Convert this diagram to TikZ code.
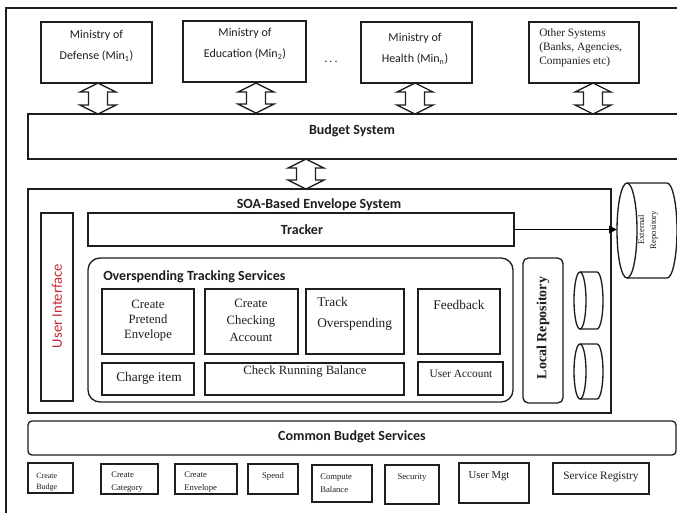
\documentclass[tikz,border=0pt]{standalone}
\usepackage{fontspec}
\setmainfont{Liberation Serif}
\setsansfont{Carlito}
\usetikzlibrary{fit,calc,arrows.meta}

\definecolor{uired}{RGB}{196,40,52}
\definecolor{ink}{RGB}{30,30,30}

% hollow cylinder lying on its side: centre x, centre y, half width, half height, end radius
\newcommand\drumoutline[5]{%
  \draw[edge] ({#1-#3+#5},{#2}) ellipse [x radius=#5, y radius=#4];
  \draw[edge] ({#1-#3+#5},{#2-#4}) -- ({#1+#3-#5},{#2-#4})
    arc [start angle=-90, end angle=90, x radius=#5, y radius=#4]
    -- ({#1-#3+#5},{#2+#4});
}

\begin{document}
\begin{tikzpicture}[x=0.75pt,y=-0.75pt,
  edge/.style={draw=ink, line width=1pt},
  box/.style={edge, rectangle, inner sep=0pt, outer sep=0pt},
  ghost/.style={rectangle, inner sep=0pt, outer sep=0pt},
  txt/.style={inner sep=0pt, align=center, text=ink},
  sanstxt/.style={txt, font=\sffamily\fontsize{9}{16}\selectfont},
  headtxt/.style={txt, font=\sffamily\bfseries\fontsize{10.5}{12}\selectfont},
  serifmid/.style={txt, font=\fontsize{9.5}{11.25}\selectfont},
  seriftiny/.style={txt, font=\fontsize{6}{8.25}\selectfont},
  flow/.style={draw=black, line width=1.3pt, -{Triangle[length=6pt,width=5.5pt]}},
  duplex/.pic={\draw[edge] (0,0) -- (-18,9) -- (-9.5,9) -- (-9.5,22) -- (-18,22)
      -- (0,31) -- (18,22) -- (9.5,22) -- (9.5,9) -- (18,9) -- cycle;},
  duplexshort/.pic={\draw[edge] (0,0) -- (-18,9) -- (-9.5,9) -- (-9.5,21) -- (-18,21)
      -- (0,30) -- (18,21) -- (9.5,21) -- (9.5,9) -- (18,9) -- cycle;}
]
\useasboundingbox (0,0) rectangle (677,512);
\fill[white] (0,0) rectangle (677,512);

% outer frame
\coordinate (frameTR) at (685,8);
\coordinate (frameTL) at (6,8);
\coordinate (frameBL) at (6,520);
\draw[edge] (frameTR) -- (frameTL) -- (frameBL);

% ministries and other systems
\node[box, fit={(41,22)(152,83)}] (min1) {};
\node[box, fit={(183,21)(306,82)}] (min2) {};
\node[box, fit={(361,22)(472,83)}] (minn) {};
\node[box, fit={(529,22)(639,83)}] (other) {};
\node[sanstxt] (min1-t) at (96.5,46) {Ministry of\\Defense (Min\textsubscript{1})};
\node[sanstxt] (min2-t) at (245,44) {Ministry of\\Education (Min\textsubscript{2})};
\node[sanstxt] (dots) at (331,62) {.\,.\,.};
\node[sanstxt] (minn-t) at (415,49) {Ministry of\\Health (Min\textsubscript{n})};
\node[txt, align=left, anchor=west, font=\fontsize{8.5}{10.5}\selectfont] (other-t) at (539,48)
  {Other Systems\\(Banks, Agencies,\\Companies etc)};

% budget system
\node[box, fit={(28,114)(685,159)}] (budget) {};
\node[headtxt] (budget-t) at (352,131) {Budget System};

\pic at ($(min1.south)+(1.5,0)$) {duplex};
\pic at ($(min2.south)+(11.5,1)$) {duplexshort};
\pic at ($(minn.south)+(-1.5,0)$) {duplex};
\pic at ($(other.south)+(9,0)$) {duplex};
\pic at (306,159) {duplexshort};

% SOA-based envelope system
\node[box, fit={(28,189)(611,413)}] (soa) {};
\node[headtxt] (soa-t) at (319,205) {SOA-Based Envelope System};

\node[box, fit={(41,213)(73,401)}] (ui) {};
\node[txt, rotate=90, text=uired, font=\sffamily\fontsize{11}{13}\selectfont] (ui-t) at (57,306) {User Interface};

\node[box, fit={(88,213)(514,246)}] (tracker) {};
\node[headtxt] (tracker-t) at (302,230) {Tracker};

% overspending tracking services
\node[box, rounded corners=9pt, fit={(88,258)(513,402)}] (ots) {};
\node[headtxt, anchor=west] (ots-t) at (103,277) {Overspending Tracking Services};

\node[box, fit={(102,289)(194,354)}] (cpe) {};
\node[serifmid] (cpe-t) at (148,321) {Create\\Pretend\\Envelope};
\node[box, fit={(205,289)(298,354)}] (cca) {};
\node[txt, font=\fontsize{9.5}{12.75}\selectfont] (cca-t) at (251,320) {Create\\Checking\\Account};
\node[box, fit={(306,289)(404,354)}] (tov) {};
\node[txt, align=left, anchor=west, font=\fontsize{10}{15.75}\selectfont] (tov-t) at (317,313.5) {Track\\Overspending};
\node[box, fit={(418,289)(500,354)}] (fb) {};
\node[txt, font=\fontsize{10}{12}\selectfont] (fb-t) at (459,305) {Feedback};
\node[box, fit={(102,363)(194,395)}] (chi) {};
\node[txt, font=\fontsize{10}{12}\selectfont] (chi-t) at (149,378) {Charge item};
\node[box, fit={(205,363)(404,395)}] (crb) {};
\node[serifmid] (crb-t) at (305,371) {Check Running Balance};
\node[box, fit={(418,362)(503,395)}] (ua) {};
\node[txt, font=\fontsize{8.5}{10}\selectfont] (ua-t) at (461,374) {User Account};

% repositories
\node[box, rounded corners=4pt, fit={(523,258)(563,403)}] (localrepo) {};
\node[txt, rotate=90, font=\bfseries\fontsize{10.5}{12}\selectfont] (localrepo-t) at (543,328) {Local Repository};

\node[ghost, fit={(574,272)(603,329)}] (store1) {};
\drumoutline{588.5}{300.5}{14.5}{28.5}{6}
\node[ghost, fit={(574,344)(603,399)}] (store2) {};
\drumoutline{588.5}{371.5}{14.5}{27.5}{6}

\node[ghost, fit={(617,183)(677,278)}] (extrepo) {};
\drumoutline{647}{230.5}{30}{47.5}{10}
\node[txt, rotate=90, font=\fontsize{6.5}{9}\selectfont] (extrepo-t) at (648,230) {External\\Repository};

\draw[flow] (tracker.east) -- (tracker.east -| extrepo.west);

% common budget services
\node[box, rounded corners=3pt, fit={(28,421)(676,455)}] (cbs) {};
\node[headtxt] (cbs-t) at (352,437) {Common Budget Services};

\node[box, fit={(28,463)(73,493)}] (cbud) {};
\node[seriftiny, align=left, anchor=west] (cbud-t) at (36,482) {Create\\Budge};
\node[box, fit={(101,464)(158,494)}] (ccat) {};
\node[seriftiny, align=left, anchor=west, font=\fontsize{6.5}{9.5}\selectfont] (ccat-t) at (111,482) {Create\\Category};
\node[box, fit={(175,464)(237,494)}] (cenv) {};
\node[seriftiny, align=left, anchor=west, font=\fontsize{6.5}{9.5}\selectfont] (cenv-t) at (184,482) {Create\\Envelope};
\node[box, fit={(248,464)(298,494)}] (spend) {};
\node[seriftiny, font=\fontsize{6.5}{8}\selectfont] (spend-t) at (273,476) {Spend};
\node[box, fit={(312,465)(372,502)}] (cbal) {};
\node[seriftiny, align=left, anchor=west, font=\fontsize{6.5}{9.5}\selectfont] (cbal-t) at (320,483) {Compute\\Balance};
\node[box, fit={(385,465)(439,504)}] (sec) {};
\node[seriftiny, font=\fontsize{6.5}{8}\selectfont] (sec-t) at (412,478) {Security};
\node[box, fit={(459,463)(529,503)}] (umgt) {};
\node[txt, font=\fontsize{8}{9}\selectfont] (umgt-t) at (489,476) {User Mgt};
\node[box, fit={(553,463)(649,494)}] (sreg) {};
\node[txt, font=\fontsize{8.5}{10}\selectfont] (sreg-t) at (601,477) {Service Registry};
\end{tikzpicture}
\end{document}
